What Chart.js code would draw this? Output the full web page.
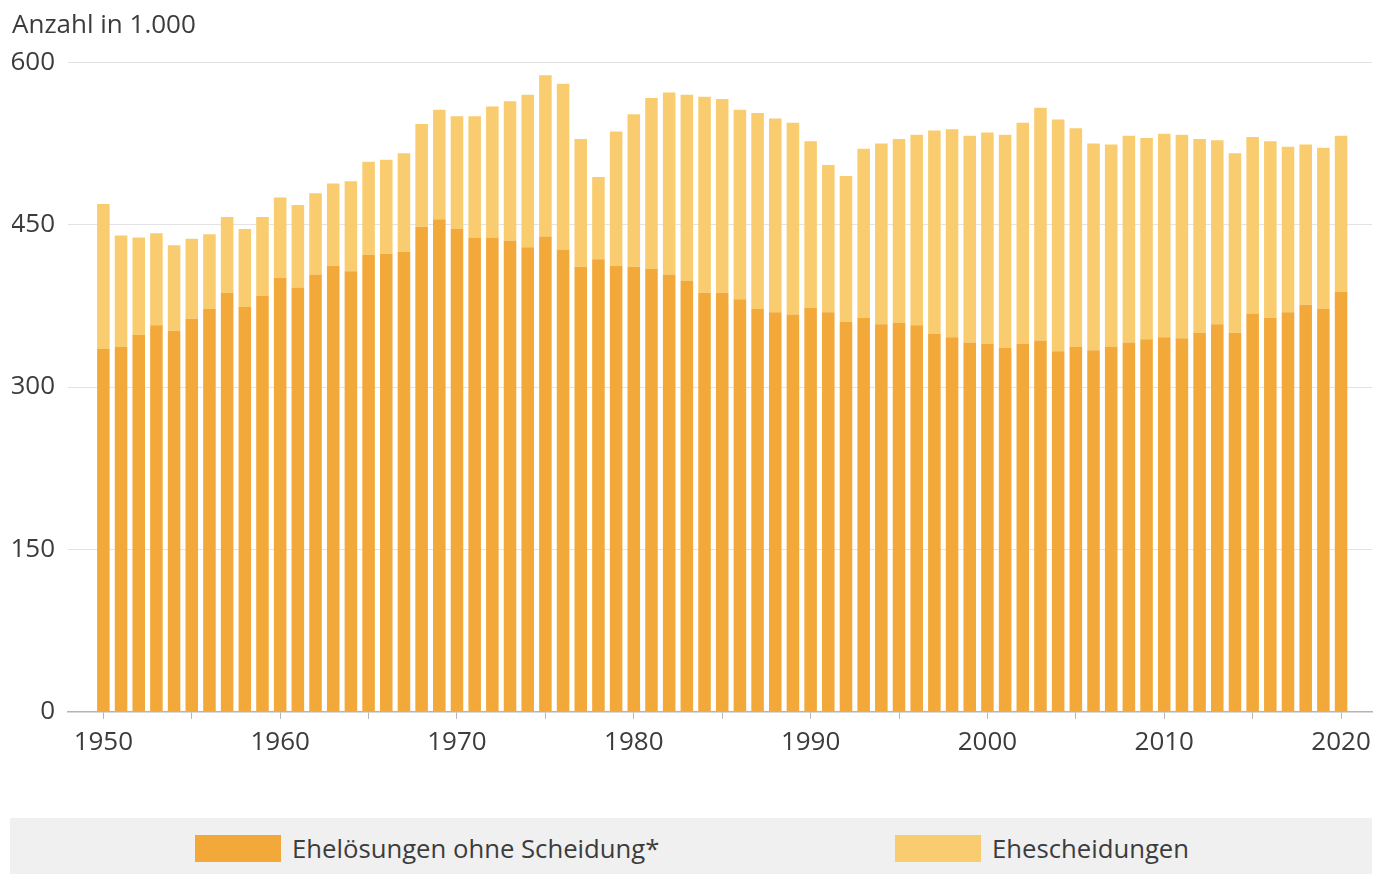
<!DOCTYPE html>
<html>
<head>
<meta charset="utf-8">
<script src="https://cdn.jsdelivr.net/npm/chart.js@4/dist/chart.umd.min.js"></script>
<style>
  html, body { margin: 0; padding: 0; background: #fff; }
  #wrap { position: relative; width: 1387px; height: 874px; overflow: hidden; }
  #chartBox { position: absolute; left: 0; top: 0; width: 1387px; height: 800px; }
  #legend { position: absolute; left: 10px; top: 818px; width: 1362px; height: 56px; background: #f0f0f0;
            font-family: "Open Sans", "Noto Sans", sans-serif; font-size: 25.7px; color: #3c3c3c; }
  .item { position: absolute; top: 17px; height: 27px; display: flex; align-items: center; white-space: nowrap; }
  .sw { width: 86px; height: 27px; margin-right: 11px; }
</style>
</head>
<body>
<div id="wrap">
  <div id="chartBox"><canvas id="c"></canvas></div>
  <div id="legend"></div>
</div>
<script>
const years = [];
for (let y = 1950; y <= 2020; y++) years.push(y);

// Ehelösungen ohne Scheidung (in 1.000)
const ohneScheidung = [
  335, 337, 348, 357, 352, 363, 372, 387, 374, 384,
  401, 392, 404, 412, 407, 422, 423, 425, 448, 455,
  446, 438, 438, 435, 429, 439, 427, 411, 418, 412,
  411, 409, 404, 398, 387, 387, 381, 372, 369, 367,
  373, 369, 360, 364, 358, 359, 357, 349, 346, 341,
  340, 336, 340, 343, 333, 337, 334, 337, 341, 344,
  346, 345, 350, 358, 350, 368, 364, 369, 376, 372,
  388
];
// Ehescheidungen (in 1.000)
const scheidungen = [
  134, 103, 90, 85, 79, 74, 69, 70, 72, 73,
  74, 76, 75, 76, 83, 86, 87, 91, 95, 101,
  104, 112, 121, 129, 141, 149, 153, 118, 76, 124,
  141, 158, 168, 172, 181, 179, 175, 181, 179, 177,
  154, 136, 135, 156, 167, 170, 176, 188, 192, 191,
  195, 197, 204, 215, 214, 202, 191, 187, 191, 186,
  188, 188, 179, 170, 166, 163, 163, 153, 148, 149,
  144
];
const yTicks = [0, 150, 300, 450, 600];
const xTicks = [1950, 1955, 1960, 1965, 1970, 1975, 1980, 1985, 1990, 1995, 2000, 2005, 2010, 2015, 2020];
const seriesNames = ["Ehelösungen ohne Scheidung*", "Ehescheidungen"];
const seriesColors = ["#F3A93A", "#F9CD6F"];

const font = "'Open Sans', 'Noto Sans', sans-serif";
const textColor = "#3c3c3c";

const toPoints = vals => years.map((y, i) => ({ x: y, y: vals[i] }));

new Chart(document.getElementById('c'), {
  type: 'bar',
  data: {
    datasets: [
      { label: seriesNames[0], data: toPoints(ohneScheidung), backgroundColor: seriesColors[0],
        barPercentage: 0.71, categoryPercentage: 1 },
      { label: seriesNames[1], data: toPoints(scheidungen), backgroundColor: seriesColors[1],
        barPercentage: 0.71, categoryPercentage: 1 }
    ]
  },
  options: {
    responsive: true,
    maintainAspectRatio: false,
    animation: false,
    layout: { padding: { left: 12, right: 15, top: 0, bottom: 34 } },
    plugins: {
      legend: { display: false },
      tooltip: { enabled: false },
      title: {
        display: true, text: 'Anzahl in 1.000', align: 'start', color: textColor,
        font: { family: font, size: 26, weight: 'normal' }, padding: { top: 10, bottom: 21 }
      }
    },
    scales: {
      x: {
        type: 'linear', stacked: true, offset: false,
        min: 1948, max: 2021.75,
        afterBuildTicks: s => { s.ticks = xTicks.map(v => ({ value: v })); },
        afterFit: s => { s.paddingLeft = 0; s.paddingRight = 0; },
        grid: { display: true, drawOnChartArea: false, drawTicks: true, tickLength: 7, color: '#b4b4b4', offset: false },
        border: { display: true, color: '#b4b4b4', width: 1.5 },
        ticks: {
          autoSkip: false, maxRotation: 0, padding: 8, color: textColor,
          font: { family: font, size: 26 },
          callback: v => (v % 10 === 0 ? String(v) : '')
        }
      },
      y: {
        stacked: true, min: 0, max: 600,
        afterBuildTicks: s => { s.ticks = yTicks.map(v => ({ value: v })); },
        afterFit: s => { s.width = 56; },
        grid: { color: '#e3e3e3', drawTicks: false },
        border: { display: false },
        ticks: { padding: 13, color: textColor, font: { family: font, size: 26 } }
      }
    }
  }
});

// legend (HTML)
const legend = document.getElementById('legend');
const legendLeft = [185, 885];
seriesNames.forEach((name, i) => {
  const it = document.createElement('div');
  it.className = 'item';
  it.style.left = legendLeft[i] + 'px';
  const sw = document.createElement('div');
  sw.className = 'sw';
  sw.style.background = seriesColors[i];
  const tx = document.createElement('span');
  tx.textContent = name;
  it.appendChild(sw); it.appendChild(tx);
  legend.appendChild(it);
});
</script>
</body>
</html>
